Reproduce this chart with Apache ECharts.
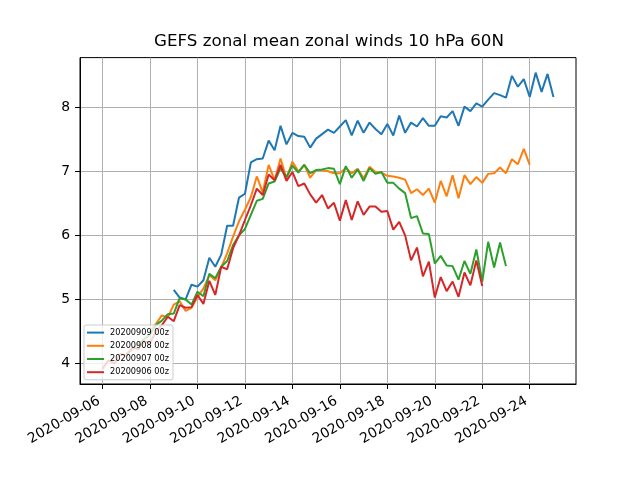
<!DOCTYPE html>
<html>
<head>
<meta charset="utf-8">
<script src="https://cdn.jsdelivr.net/npm/echarts@6/dist/echarts.min.js"></script>
<style>
  html, body { margin: 0; padding: 0; background: #fff; }
  #chart { width: 640px; height: 480px; }
</style>
</head>
<body>
<div id="chart"></div>
<script>
// forecast runs, 6-hourly values; x is days after 2020-09-06 00z
const runNames = ['20200909 00z', '20200908 00z', '20200907 00z', '20200906 00z'];
const runStartDays = [3, 2, 1, 0];
const stepDays = 0.25;
const runColors = ['#1f77b4', '#ff7f0e', '#2ca02c', '#d62728'];

const dateTicks = [0, 2, 4, 6, 8, 10, 12, 14, 16, 18];
const windTicks = [4, 5, 6, 7, 8];

const run0909 = [
  5.15, 5.03, 5.00, 5.23, 5.20, 5.30, 5.65, 5.51, 5.70, 6.15,
  6.15, 6.59, 6.65, 7.14, 7.19, 7.20, 7.48, 7.33, 7.71, 7.42,
  7.60, 7.55, 7.54, 7.37, 7.51, 7.58, 7.65, 7.60, 7.70, 7.80,
  7.56, 7.79, 7.60, 7.76, 7.66, 7.58, 7.74, 7.56, 7.87, 7.60,
  7.76, 7.70, 7.83, 7.71, 7.71, 7.86, 7.84, 7.94, 7.71, 8.01,
  7.94, 8.06, 8.01, 8.12, 8.22, 8.19, 8.15, 8.49, 8.32, 8.44,
  8.16, 8.54, 8.24, 8.52, 8.16
];
const run0908 = [
  4.50, 4.62, 4.75, 4.72, 4.92, 4.97, 4.82, 4.87, 5.04, 5.17,
  5.38, 5.30, 5.50, 5.72, 5.98, 6.22, 6.40, 6.60, 6.92, 6.67,
  7.10, 6.86, 7.20, 6.89, 7.15, 7.00, 7.10, 6.90, 7.02, 7.02,
  7.00, 6.97, 6.97, 7.05, 6.97, 7.04, 6.89, 7.07, 6.99, 6.98,
  6.93, 6.92, 6.90, 6.87, 6.66, 6.72, 6.63, 6.73, 6.51, 6.85,
  6.61, 6.94, 6.58, 6.94, 6.80, 6.91, 6.82, 6.96, 6.97, 7.06,
  6.97, 7.19, 7.11, 7.35, 7.10
];
const run0907 = [
  4.15, 4.22, 4.30, 4.38, 4.45, 4.60, 4.67, 4.77, 4.78, 5.02,
  5.00, 4.92, 5.12, 5.05, 5.40, 5.33, 5.51, 5.60, 5.85, 6.00,
  6.10, 6.32, 6.54, 6.57, 6.81, 6.84, 7.05, 6.91, 7.09, 6.98,
  7.10, 6.97, 7.02, 7.03, 7.05, 7.04, 6.80, 7.08, 6.90, 7.03,
  6.85, 7.05, 6.96, 6.99, 6.82, 6.82, 6.73, 6.66, 6.27, 6.30,
  6.03, 6.02, 5.56, 5.68, 5.53, 5.52, 5.31, 5.60, 5.40, 5.78,
  5.28, 5.90, 5.50, 5.89, 5.52
];
const run0906 = [
  3.92, 4.05, 4.00, 4.15, 4.12, 4.25, 4.22, 4.35, 4.32, 4.50,
  4.60, 4.73, 4.66, 4.91, 4.87, 4.88, 5.07, 4.93, 5.29, 5.07,
  5.51, 5.47, 5.80, 6.00, 6.24, 6.47, 6.73, 6.63, 6.95, 6.86,
  7.10, 6.85, 6.99, 6.77, 6.81, 6.64, 6.51, 6.63, 6.42, 6.51,
  6.23, 6.55, 6.24, 6.53, 6.32, 6.45, 6.45, 6.37, 6.38, 6.09,
  6.21, 6.00, 5.61, 5.81, 5.36, 5.59, 5.03, 5.35, 5.13, 5.28,
  5.04, 5.42, 5.22, 5.61, 5.21
];
const runValues = [run0909, run0908, run0907, run0906];

const font = 'DejaVu Sans';
const t0 = Date.UTC(2020, 8, 6);

function dayLabel(v) {
  return new Date(t0 + v * 86400000).toISOString().slice(0, 10);
}

const chart = echarts.init(document.getElementById('chart'));

const series = runNames.map((name, k) => ({
  name: name,
  type: 'line',
  data: runValues[k].map((v, i) => [runStartDays[k] + i * stepDays, v]),
  color: runColors[k],
  showSymbol: false,
  symbol: 'none',
  lineStyle: { width: 2, color: runColors[k] },
  emphasis: { disabled: true }
}));

chart.setOption({
  animation: false,
  title: {
    text: 'GEFS zonal mean zonal winds 10 hPa 60N',
    left: 154,
    top: 33,
    padding: 0,
    textStyle: { fontFamily: font, fontSize: 16.7, fontWeight: 'normal', color: '#000' }
  },
  legend: {
    orient: 'vertical',
    left: 84,
    top: 325,
    data: runNames,
    icon: 'rect',
    itemWidth: 17,
    itemHeight: 2,
    itemGap: 4,
    padding: [3, 4, 3, 3],
    backgroundColor: 'rgba(255,255,255,0.8)',
    borderColor: '#cccccc',
    borderWidth: 1,
    borderRadius: 2,
    selectedMode: false,
    textStyle: { fontFamily: font, fontSize: 8.2, color: '#000', lineHeight: 9.2, padding: [0, 0, 0, 1] }
  },
  grid: {
    left: 80, right: 64, top: 57.6, bottom: 96,
    show: true, borderColor: '#000', borderWidth: 1
  },
  xAxis: {
    type: 'value',
    min: -0.95,
    max: 19.95,
    axisLine: { onZero: false, lineStyle: { color: '#000', width: 1 } },
    axisTick: { show: true, customValues: dateTicks, length: 5, lineStyle: { color: '#000', width: 1 } },
    axisLabel: {
      customValues: dateTicks, rotate: 30, margin: 14, formatter: dayLabel,
      fontFamily: font, fontSize: 13.9, color: '#000', padding: [0, 4, 0, 0]
    },
    splitLine: { show: true, lineStyle: { color: '#b0b0b0', width: 1 } }
  },
  yAxis: {
    type: 'value',
    min: 3.68,
    max: 8.775,
    axisLine: { show: true, onZero: false, lineStyle: { color: '#000', width: 1 } },
    axisTick: { show: true, customValues: windTicks, length: 5, lineStyle: { color: '#000', width: 1 } },
    axisLabel: {
      customValues: windTicks, margin: 10, formatter: v => String(v),
      fontFamily: font, fontSize: 13.9, color: '#000'
    },
    splitLine: { show: true, lineStyle: { color: '#b0b0b0', width: 1 } }
  },
  series: series
});
</script>
</body>
</html>
